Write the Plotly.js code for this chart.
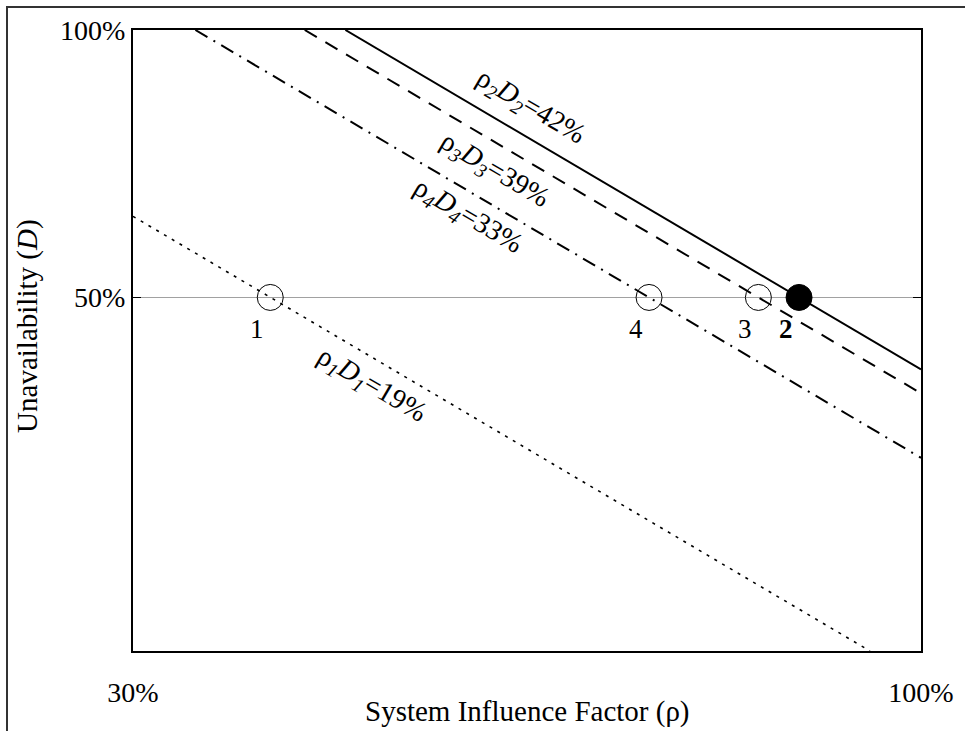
<!DOCTYPE html>
<html>
<head>
<meta charset="utf-8">
<script src="https://cdn.plot.ly/plotly-3.0.1.min.js"></script>
<style>
  html, body { margin: 0; padding: 0; background: #fff; }
  #wrap { position: relative; width: 965px; height: 731px; overflow: hidden; }
  #frame { position: absolute; left: 6px; top: 6px; width: 1200px; height: 1000px;
           border-left: 2px solid #333; border-top: 2px solid #333; pointer-events: none; }
  #chart { position: absolute; left: 0; top: 0; width: 965px; height: 731px; }
</style>
</head>
<body>
<div id="wrap">
  <div id="chart"></div>
  <div id="frame"></div>
</div>
<script>
// ---- data ----
const pointLabels = ['1', '2', '3', '4'];
const pointRho    = [0.37, 0.83, 0.78, 0.66];   // system influence factor
const pointD      = [0.50, 0.50, 0.50, 0.50];   // unavailability
const pointFilled = [false, true, false, false];

// iso-product lines rho*D = const (endpoints on the plot boundary)
const line2Rho = [0.415, 1.0];  const line2D = [1.0, 0.415];   // 42%
const line3Rho = [0.39, 1.0];   const line3D = [1.0, 0.39];    // 39%
const line4Rho = [0.33, 1.0];   const line4D = [1.0, 0.33];    // 33%
const line1Rho = [0.30, 0.925]; const line1D = [0.617, 0.20];  // 19%

const lineLabels = ['ρ<sub><i>2</i></sub><i>D</i><sub><i>2</i></sub>=42%',
                    'ρ<sub><i>3</i></sub><i>D</i><sub><i>3</i></sub>=39%',
                    'ρ<sub><i>4</i></sub><i>D</i><sub><i>4</i></sub>=33%',
                    'ρ<sub><i>1</i></sub><i>D</i><sub><i>1</i></sub>=19%'];
const lineLabelRho = [0.551, 0.521, 0.500, 0.432];
const lineLabelD   = [0.819, 0.695, 0.616, 0.398];

const xTickVals = [0.3, 1.0];  const xTickText = ['30%', '100%'];
const yTickVals = [0.5, 1.0];  const yTickText = ['50%', '100%'];
const xTitle = 'System Influence Factor (ρ)';
const yTitle = 'Unavailability (<i>D</i>)';

// ---- styling ----
const FONT = 'Liberation Serif, Times New Roman, serif';
const black = '#000';

const traces = [
  {x: line2Rho, y: line2D, mode: 'lines', line: {color: black, width: 2}, hoverinfo: 'skip'},
  {x: line3Rho, y: line3D, mode: 'lines', line: {color: black, width: 2, dash: '14px,10px'}, hoverinfo: 'skip'},
  {x: line4Rho, y: line4D, mode: 'lines', line: {color: black, width: 2, dash: '14px,7px,2px,7px'}, hoverinfo: 'skip'},
  {x: line1Rho, y: line1D, mode: 'lines', line: {color: black, width: 1.6, dash: '3px,6px'}, hoverinfo: 'skip'},
  {x: pointRho, y: pointD, mode: 'markers',
   marker: {size: 26, symbol: 'circle',
            color: pointFilled.map(f => f ? black : 'rgba(255,255,255,0)'),
            line: {color: black, width: 1}},
   hoverinfo: 'skip'}
];

const annotations = [];
lineLabels.forEach((t, i) => {
  annotations.push({x: Math.log10(lineLabelRho[i]), y: Math.log10(lineLabelD[i]),
    xref: 'x', yref: 'y', text: t, showarrow: false, textangle: 30.5,
    font: {family: FONT, size: 28, color: black}});
});
pointLabels.forEach((t, i) => {
  annotations.push({x: Math.log10(pointRho[i]), y: Math.log10(pointD[i]),
    xref: 'x', yref: 'y', text: pointFilled[i] ? '<b>' + t + '</b>' : t,
    showarrow: false, xshift: -13, yshift: -32,
    font: {family: FONT, size: 27, color: black}});
});
// axis titles
annotations.push({xref: 'paper', yref: 'paper', x: 0.5, y: -0.0982,
  xanchor: 'center', yanchor: 'middle', text: xTitle, showarrow: false,
  font: {family: FONT, size: 29, color: black}});
annotations.push({xref: 'paper', yref: 'paper', x: -0.1332, y: 0.522,
  xanchor: 'center', yanchor: 'middle', text: yTitle, showarrow: false, textangle: -90,
  font: {family: FONT, size: 29, color: black}});

const layout = {
  width: 965, height: 731,
  margin: {l: 133, r: 44, t: 30, b: 80},
  paper_bgcolor: '#fff', plot_bgcolor: '#fff',
  showlegend: false,
  font: {family: FONT, color: black, size: 27},
  xaxis: {
    type: 'log', range: [Math.log10(0.3), 0],
    tickvals: xTickVals, ticktext: xTickText,
    ticks: 'inside', ticklen: 8, tickwidth: 1, tickcolor: black,
    showline: true, linecolor: black, linewidth: 2, mirror: 'ticks',
    showgrid: false, zeroline: false,
    ticklabelstandoff: 15,
    tickfont: {family: FONT, size: 28, color: black}
  },
  yaxis: {
    type: 'log', range: [Math.log10(0.2), 0],
    tickvals: yTickVals, ticktext: yTickText,
    ticks: 'inside', ticklen: 8, tickwidth: 1, tickcolor: black,
    showline: true, linecolor: black, linewidth: 2, mirror: 'ticks',
    showgrid: true, gridcolor: '#8a8a8a', gridwidth: 0.8, zeroline: false,
    tickfont: {family: FONT, size: 28, color: black}
  },
  annotations: annotations
};

Plotly.newPlot('chart', traces, layout, {staticPlot: true, displayModeBar: false});
</script>
</body>
</html>
